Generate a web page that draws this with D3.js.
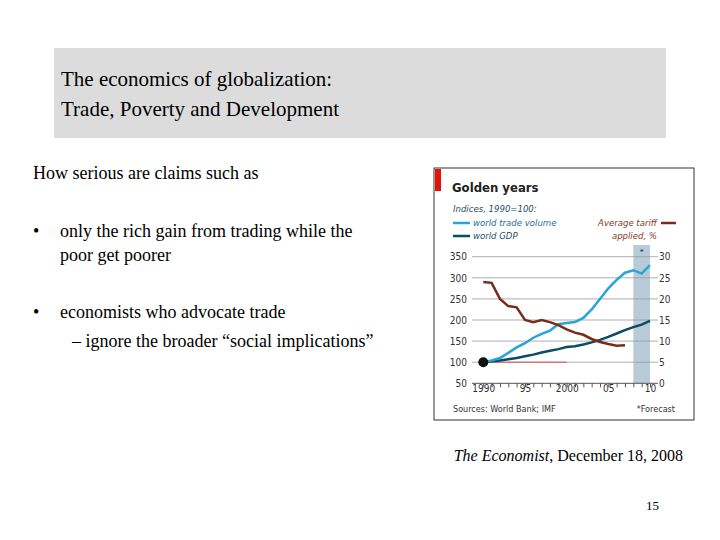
<!DOCTYPE html><html><head><meta charset="utf-8"><script src="https://cdn.jsdelivr.net/npm/d3@7"></script>
<style>body{margin:0;background:#fff}</style></head><body><svg id="s" width="720" height="540"></svg>
<script>
const years=d3.range(1990,2011);
const trade=[100,104,110,122,135,145,158,167,175,190,193,195,205,225,250,275,295,312,318,310,330];
const gdp=[100,102,104,107,110,114,118,123,127,131,136,138,142,147,153,160,168,176,183,189,198];
const tariffYears=d3.range(1990,2008);
const tariff=[24,23.8,20,18.3,18,15,14.5,15,14.5,13.8,12.8,12,11.5,10.5,9.8,9.3,8.9,9];
const leftTicks=[50,100,150,200,250,300,350];
const rightTicks=[0,5,10,15,20,25,30];
const xTickLabels=["1990","95","2000","05","10"];
const svg=d3.select("#s");
const serif="Liberation Serif, Times New Roman, serif";
svg.append("rect").attr("x",54).attr("y",48).attr("width",612).attr("height",90).attr("fill","#dcdcdc");
svg.append("text").attr("x",61).attr("y",86).attr("font-family",serif).attr("font-size",21).text("The economics of globalization:");
svg.append("text").attr("x",61).attr("y",116).attr("font-family",serif).attr("font-size",21).text("Trade, Poverty and Development");
const t=(x,y,s,o={})=>svg.append("text").attr("x",x).attr("y",y).attr("font-family",serif).attr("font-size",o.fs||18).attr("font-style",o.fi||null).attr("text-anchor",o.a||"start").text(s);
t(33,179,"How serious are claims such as");
t(33,237,"•");t(60,237,"only the rich gain from trading while the");t(60,261,"poor get poorer");
t(33,318,"•");t(60,318,"economists who advocate trade");t(72,347,"– ignore the broader “social implications”");
const src=svg.append("text").attr("x",683).attr("y",461).attr("font-family",serif).attr("font-size",16).attr("text-anchor","end");
src.append("tspan").attr("font-style","italic").text("The Economist");src.append("tspan").text(", December 18, 2008");
t(659,510,"15",{fs:13,a:"end"});
// chart
const sans="DejaVu Sans Condensed, Liberation Sans Narrow, sans-serif";
svg.append("rect").attr("x",434).attr("y",168).attr("width",260).attr("height",252).attr("fill","#fff").attr("stroke","#333").attr("stroke-width",1);
svg.append("rect").attr("x",435).attr("y",169).attr("width",6).attr("height",22).attr("fill","#e3120b");
svg.append("text").attr("x",452).attr("y",192).attr("font-family",sans).attr("font-weight","bold").attr("font-size",13).attr("fill","#222").text("Golden years");
const x=d3.scaleLinear().domain([1990,2010]).range([483.3,650]);
const y=d3.scaleLinear().domain([50,350]).range([383.3,256.7]);
const yr=d3.scaleLinear().domain([0,30]).range([383.3,256.7]);
svg.append("rect").attr("x",x(2008)).attr("y",245).attr("width",x(2010)-x(2008)).attr("height",383.3-245).attr("fill","#b7cbd9");
svg.append("text").attr("x",x(2009)).attr("y",255).attr("text-anchor","middle").attr("font-size",9).attr("fill","#333").text("*");
leftTicks.forEach(v=>svg.append("line").attr("x1",472).attr("x2",658).attr("y1",y(v)).attr("y2",y(v)).attr("stroke",v===50?"#555":"#9a9a9a").attr("stroke-width",v===50?1:0.8));
const gl=svg.append("g").attr("transform","translate(470,0)").call(d3.axisLeft(y).tickValues(leftTicks).tickSize(0));
const gr=svg.append("g").attr("transform","translate(660,0)").call(d3.axisRight(yr).tickValues(rightTicks).tickSize(0));
const gx=svg.append("g").attr("transform","translate(0,383.3)").call(d3.axisBottom(x).tickValues(d3.range(1990,2011)).tickSize(4).tickFormat(d=>d%5===0?xTickLabels[(d-1990)/5]:""));
[gl,gr,gx].forEach(g=>{g.select(".domain").remove();g.selectAll("text").attr("font-family",sans).attr("font-size",10).attr("fill","#333");});
gl.selectAll("text").attr("text-anchor","end");gr.selectAll("text").attr("dx",-4);
gx.selectAll("line").attr("stroke","#555");gx.selectAll("text").attr("dy",2);
svg.append("line").attr("x1",x(1990)).attr("x2",x(2000)).attr("y1",y(100)).attr("y2",y(100)).attr("stroke","#d33").attr("stroke-width",0.8);
const ln=d3.line().x((d,i)=>x(years[i])).y(d=>y(d));
svg.append("path").attr("d",ln(gdp)).attr("fill","none").attr("stroke","#0b4b63").attr("stroke-width",2.5);
svg.append("path").attr("d",ln(trade)).attr("fill","none").attr("stroke","#27a5d6").attr("stroke-width",2.5);
svg.append("path").attr("d",d3.line().x((d,i)=>x(tariffYears[i])).y(d=>yr(d))(tariff)).attr("fill","none").attr("stroke","#7a2c1a").attr("stroke-width",2.5);
svg.append("circle").attr("cx",x(1990)).attr("cy",y(100)).attr("r",5).attr("fill","#111");
const it=(xx,yy,s,c,a)=>svg.append("text").attr("x",xx).attr("y",yy).attr("font-family",sans).attr("font-style","italic").attr("font-size",9.5).attr("fill",c).attr("text-anchor",a||"start").text(s);
it(453,212,"Indices, 1990=100:","#1e4f6a");
svg.append("line").attr("x1",453).attr("x2",470).attr("y1",223).attr("y2",223).attr("stroke","#27a5d6").attr("stroke-width",2.5);
it(473,226,"world trade volume","#1e6f95");
svg.append("line").attr("x1",453).attr("x2",470).attr("y1",236).attr("y2",236).attr("stroke","#0b4b63").attr("stroke-width",2.5);
it(473,239,"world GDP","#1e4f6a");
it(657,226,"Average tariff","#8a3a22","end");it(657,239,"applied, %","#8a3a22","end");
svg.append("line").attr("x1",661).attr("x2",676).attr("y1",223).attr("y2",223).attr("stroke","#7a2c1a").attr("stroke-width",2.5);
svg.append("text").attr("x",453).attr("y",412).attr("font-family",sans).attr("font-size",9).attr("fill","#333").text("Sources: World Bank; IMF");
svg.append("text").attr("x",675).attr("y",412).attr("font-family",sans).attr("font-size",9).attr("fill","#333").attr("text-anchor","end").text("*Forecast");
</script></body></html>
